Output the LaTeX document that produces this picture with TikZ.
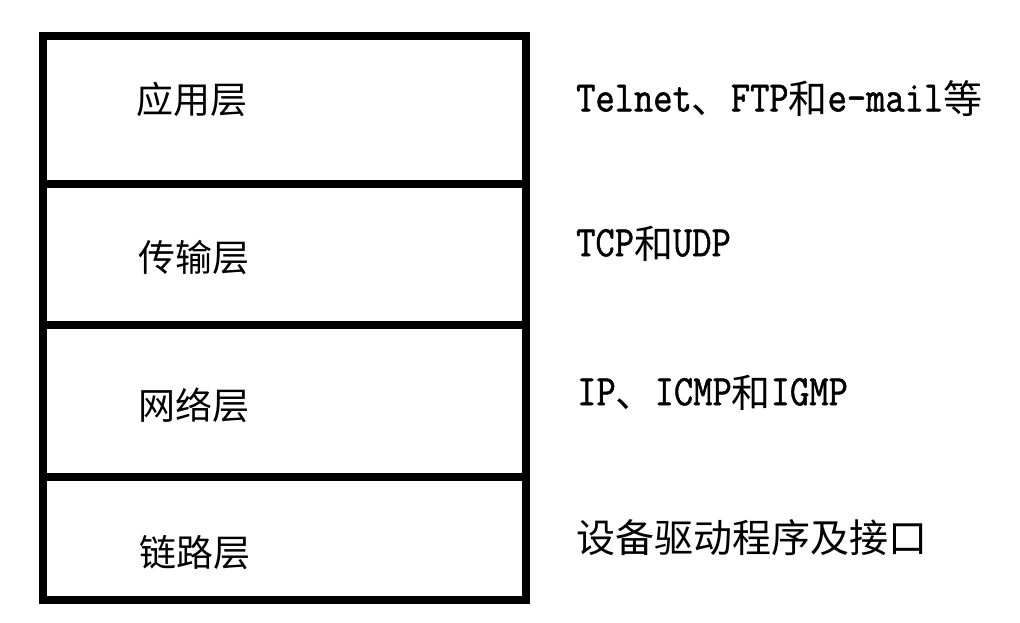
\documentclass[tikz,border=0pt]{standalone}
\usepackage{fontspec}
\newfontfamily\cjk{Noto Sans CJK SC}
\newfontfamily\mono[FakeStretch=0.86,FakeBold=1.2]{Latin Modern Mono}
\newcommand\lat[1]{\raisebox{2pt}{\fontsize{43.5}{43.5}\mono #1}}
\begin{document}
\begin{tikzpicture}[x=1pt,y=-1pt,
  layerline/.style={line width=8pt,line join=miter},
  layerlabel/.style={inner sep=0pt,font=\fontsize{37}{37}\cjk},
  proto/.style={anchor=west,inner sep=0pt,font=\fontsize{39}{39}\cjk}]
\useasboundingbox (0,0) rectangle (1020,622);
\draw[layerline] (43,36) rectangle (526,600);
\draw[layerline] (43,184) -- (526,184);
\draw[layerline] (43,324.5) -- (526,324.5);
\draw[layerline] (43,477) -- (526,477);
\node[layerlabel] (app) at (192,99.5) {应用层};
\node[layerlabel] (trans) at (194,258) {传输层};
\node[layerlabel] (net) at (194,405) {网络层};
\node[layerlabel] (link) at (195,553) {链路层};
\node[proto] (papp) at (576,98.5) {\lat{Telnet}、\lat{FTP}和\lat{e-mail}等};
\node[proto] (ptrans) at (576,243.5) {\lat{TCP}和\lat{UDP}};
\node[proto] (pnet) at (577,392.5) {\lat{IP}、\lat{ICMP}和\lat{IGMP}};
\node[proto] (plink) at (576,537.5) {设备驱动程序及接口};
\end{tikzpicture}
\end{document}
